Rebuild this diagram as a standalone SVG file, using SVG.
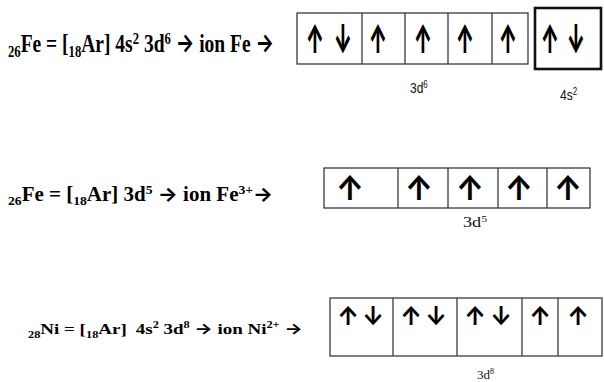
<svg xmlns="http://www.w3.org/2000/svg" width="604" height="382" viewBox="0 0 604 382">
<style>
.t{font-family:"Liberation Serif","Times New Roman",serif;font-weight:bold;fill:#000}
.s{font-size:0.65em}
.ia{font-family:Inter,"DejaVu Sans",sans-serif;font-weight:bold}
.cell{fill:#fff;stroke:#3a3a3a;stroke-width:1.3}
.thick{fill:#fff;stroke:#111;stroke-width:2.6}
.ar{font-family:Inter,"DejaVu Sans",sans-serif;font-weight:bold;fill:#000;text-anchor:middle}
.heavy{font-weight:800}
.lab{font-family:"Liberation Sans",Arial,sans-serif;fill:#111}
.labs{font-family:"Liberation Serif","Times New Roman",serif;fill:#111}
</style>
<rect width="604" height="382" fill="#fff"/>

<g id="row1-formula">
<text class="t" font-size="19.5" transform="translate(8,52) scale(1,1.3)"><tspan class="s" dy="4">26</tspan><tspan dy="-4">Fe = [</tspan><tspan class="s" dy="4">18</tspan><tspan dy="-4">Ar] 4s</tspan><tspan class="s" dy="-6">2</tspan><tspan dy="6"> 3d</tspan><tspan class="s" dy="-6">6</tspan><tspan dy="6"> </tspan><tspan class="ia">→</tspan><tspan> ion Fe </tspan><tspan class="ia">→</tspan></text>
</g>

<g id="row1-3d">
<rect class="cell" x="297" y="13" width="231" height="51"/>
<line class="cell" x1="362" y1="13" x2="362" y2="64"/>
<line class="cell" x1="405" y1="13" x2="405" y2="64"/>
<line class="cell" x1="448" y1="13" x2="448" y2="64"/>
<line class="cell" x1="492" y1="13" x2="492" y2="64"/>
<text class="ar heavy" font-size="28" transform="translate(0,53) scale(0.7,1.42)"><tspan x="450" y="0">↑</tspan><tspan x="490">↓</tspan><tspan x="540">↑</tspan><tspan x="604.3">↑</tspan><tspan x="664.3">↑</tspan><tspan x="725.7">↑</tspan></text>
<text class="lab" font-size="15" transform="translate(410,93) scale(0.8,1)">3d<tspan dy="-5" font-size="10">6</tspan></text>
</g>

<g id="row1-4s">
<rect class="thick" x="535" y="8" width="66" height="61"/>
<text class="ar heavy" font-size="28" transform="translate(0,53) scale(0.7,1.42)"><tspan x="785.7" y="0">↑</tspan><tspan x="822.9">↓</tspan></text>
<text class="lab" font-size="15" transform="translate(560,100) scale(0.8,1)">4s<tspan dy="-5" font-size="10">2</tspan></text>
</g>

<g id="row2-formula">
<text class="t" font-size="21" transform="translate(8,201) scale(1,0.95)"><tspan class="s" dy="4">26</tspan><tspan dy="-4">Fe = [</tspan><tspan class="s" dy="4">18</tspan><tspan dy="-4">Ar] 3d</tspan><tspan class="s" dy="-7">5</tspan><tspan dy="7"> </tspan><tspan class="ia">→</tspan><tspan> ion Fe</tspan><tspan class="s" dy="-7">3+</tspan><tspan class="ia" dy="7">→</tspan></text>
</g>

<g id="row2-3d">
<rect class="cell" x="324" y="168" width="266" height="40"/>
<line class="cell" x1="398" y1="168" x2="398" y2="208"/>
<line class="cell" x1="448" y1="168" x2="448" y2="208"/>
<line class="cell" x1="498" y1="168" x2="498" y2="208"/>
<line class="cell" x1="547" y1="168" x2="547" y2="208"/>
<text class="ar" font-size="34" transform="translate(0,200) scale(0.92,1)"><tspan x="380.4" y="0">↑</tspan><tspan x="455.4">↑</tspan><tspan x="510.9">↑</tspan><tspan x="564.1">↑</tspan><tspan x="617.4">↑</tspan></text>
<text class="labs" font-size="14" transform="translate(463,227) scale(1.3,1)">3d<tspan dy="-5" font-size="9">5</tspan></text>
</g>

<g id="row3-formula">
<text class="t" font-size="19" transform="translate(28,334) scale(1,0.8)"><tspan class="s" dy="5">28</tspan><tspan dy="-5">Ni = [</tspan><tspan class="s" dy="5">18</tspan><tspan dy="-5">Ar]</tspan><tspan dx="9">4s</tspan><tspan class="s" dy="-8">2</tspan><tspan dy="8"> 3d</tspan><tspan class="s" dy="-8">8</tspan><tspan dy="8"> </tspan><tspan class="ia">→</tspan><tspan> ion Ni</tspan><tspan class="s" dy="-8">2+</tspan><tspan dy="8"> </tspan><tspan class="ia">→</tspan></text>
</g>

<g id="row3-3d">
<rect class="cell" x="330" y="298" width="272" height="58"/>
<line class="cell" x1="393" y1="298" x2="393" y2="356"/>
<line class="cell" x1="457" y1="298" x2="457" y2="356"/>
<line class="cell" x1="522" y1="298" x2="522" y2="356"/>
<line class="cell" x1="558" y1="298" x2="558" y2="356"/>
<text class="ar" font-size="26" transform="translate(0,325) scale(0.92,1)"><tspan x="378.3" y="0">↑</tspan><tspan x="405.4">↓</tspan><tspan x="446.7">↑</tspan><tspan x="473.9">↓</tspan><tspan x="516.3">↑</tspan><tspan x="544.6">↓</tspan><tspan x="587">↑</tspan><tspan x="628.3">↑</tspan></text>
<text class="labs" font-size="13" transform="translate(477,379)">3d<tspan dy="-5" font-size="8">8</tspan></text>
</g>
</svg>
